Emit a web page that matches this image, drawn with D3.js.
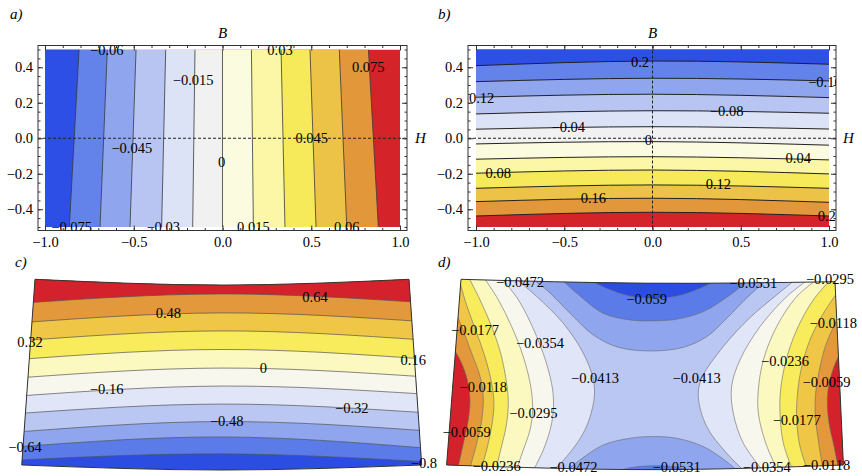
<!DOCTYPE html>
<html>
<head>
<meta charset="utf-8">
<script src="https://cdnjs.cloudflare.com/ajax/libs/d3/7.8.5/d3.min.js"></script>
<style>
  body { margin: 0; background: #fff; }
  svg { font-family: "Liberation Serif", "Times New Roman", serif; }
  .lab { font-size: 14.5px; fill: #000; text-anchor: middle; }
  .ital { font-style: italic; font-size: 15px; }
</style>
</head>
<body>
<svg id="chart" width="862" height="476"></svg>
<script>
// ---- panel a) : vertical bands, contour x at top (B=0.5) and bottom (B=-0.5)
var aLevels  = [-0.075, -0.06, -0.045, -0.03, -0.015, 0, 0.015, 0.03, 0.045, 0.06, 0.075];
var aTopX    = [-0.808, -0.649, -0.487, -0.320, -0.155, 0, 0.163, 0.330, 0.493, 0.658, 0.822];
var aBottomX = [-0.863, -0.690, -0.521, -0.343, -0.168, 0, 0.174, 0.352, 0.527, 0.700, 0.878];
var aLabels = [["\u22120.06", -0.652, 0.497], ["0.03", 0.324, 0.497], ["0.075", 0.821, 0.403],
  ["\u22120.015", -0.165, 0.328], ["\u22120.045", -0.511, -0.057], ["0.045", 0.503, 0.0],
  ["0", -0.005, -0.135], ["\u22120.075", -0.850, -0.498], ["\u22120.03", -0.334, -0.498],
  ["0.015", 0.174, -0.498], ["0.06", 0.700, -0.498]];

// ---- panel b) : horizontal bands, contour y at H=-1, 0, 1
var bLevels = [-0.2, -0.16, -0.12, -0.08, -0.04, 0, 0.04, 0.08, 0.12, 0.16, 0.2];
var bLeftY  = [0.409, 0.319, 0.231, 0.137, 0.051, -0.032, -0.118, -0.197, -0.282, -0.357, -0.438];
var bMidY   = [0.435, 0.338, 0.248, 0.155, 0.065, -0.019, -0.104, -0.179, -0.263, -0.338, -0.417];
var bRightY = [0.417, 0.323, 0.229, 0.141, 0.052, -0.039, -0.122, -0.201, -0.282, -0.361, -0.438];
var bLabels = [["0.2", -0.071, 0.431], ["\u22120.16", 0.977, 0.319], ["0.12", -0.968, 0.225],
  ["\u22120.08", 0.420, 0.154], ["\u22120.04", -0.477, 0.065], ["0", -0.024, -0.010],
  ["0.04", 0.826, -0.113], ["0.08", -0.874, -0.194], ["0.12", 0.373, -0.259],
  ["0.16", -0.335, -0.335], ["0.2", 0.987, -0.438]];

var xTickVals = [-1, -0.5, 0, 0.5, 1];
var yTickVals = [-0.4, -0.2, 0, 0.2, 0.4];

// ---- panel c) : deformed domain, contour y at left edge, middle, right edge
var cLevels = [-0.8, -0.64, -0.48, -0.32, -0.16, 0, 0.16, 0.32, 0.48, 0.64];
var cLeftY  = [-0.473, -0.401, -0.321, -0.222, -0.128, -0.030, 0.069, 0.169, 0.266, 0.371];
var cMidY   = [-0.440, -0.349, -0.266, -0.172, -0.075, 0.022, 0.122, 0.222, 0.319, 0.421];
var cRightY = [-0.482, -0.408, -0.315, -0.218, -0.118, -0.025, 0.071, 0.173, 0.272, 0.374];
var cTopEdge = [[-1, 0.5], [0, 0.469], [1, 0.5]];
var cBottomEdge = [[1.068, -0.5], [0, -0.527], [-1.071, -0.5]];
var cLabels = [["0.64", 0.497, 0.406], ["0.48", -0.287, 0.317], ["0.32", -1.027, 0.164],
  ["0.16", 1.023, 0.065], ["0", 0.221, 0.021], ["\u22120.16", -0.617, -0.091],
  ["\u22120.32", 0.694, -0.195], ["\u22120.48", 0.025, -0.263], ["\u22120.64", -1.053, -0.405],
  ["\u22120.8", 1.080, -0.489]];

// ---- panel d) : saddle, contour lines traced as point lists
var dLevels = [-0.059, -0.0531, -0.0472, -0.0413, -0.0354, -0.0295, -0.0236, -0.0177, -0.0118, -0.0059];
var dTopEdge = [[-1, 0.5], [0, 0.479], [1, 0.487]];
var dBottomEdge = [[1.045, -0.5], [0.02, -0.525], [-1.077, -0.5]];
var dLeft = [
  [-0.0413, [[-0.720,0.514],[-0.595,0.407],[-0.453,0.263],[-0.346,0.102],[-0.292,-0.042],[-0.289,-0.150],[-0.337,-0.311],[-0.435,-0.455],[-0.524,-0.545]]],
  [-0.0354, [[-0.791,0.514],[-0.693,0.389],[-0.595,0.191],[-0.533,0.012],[-0.506,-0.132],[-0.515,-0.274],[-0.560,-0.419],[-0.622,-0.545]]],
  [-0.0295, [[-0.881,0.514],[-0.800,0.389],[-0.729,0.245],[-0.667,0.084],[-0.627,-0.078],[-0.617,-0.204],[-0.631,-0.311],[-0.667,-0.419],[-0.711,-0.545]]],
  [-0.0236, [[-0.961,0.514],[-0.898,0.389],[-0.836,0.245],[-0.788,0.102],[-0.756,-0.060],[-0.747,-0.168],[-0.759,-0.293],[-0.788,-0.419],[-0.818,-0.545]]],
  [-0.0177, [[-1.014,0.514],[-0.970,0.361],[-0.922,0.227],[-0.872,0.084],[-0.836,-0.060],[-0.824,-0.168],[-0.836,-0.293],[-0.863,-0.419],[-0.898,-0.545]]],
  [-0.0118, [[-1.041,0.353],[-0.996,0.245],[-0.943,0.102],[-0.898,-0.024],[-0.881,-0.132],[-0.889,-0.257],[-0.916,-0.383],[-0.961,-0.545]]],
  [-0.0059, [[-1.100,0.220],[-1.005,0.066],[-0.966,-0.042],[-0.952,-0.150],[-0.961,-0.257],[-0.987,-0.383],[-1.023,-0.545]]]
];
var dRight = [
  [-0.0413, [[0.813,0.518],[0.688,0.416],[0.545,0.293],[0.403,0.138],[0.287,-0.033],[0.269,-0.132],[0.314,-0.293],[0.421,-0.437],[0.528,-0.545]]],
  [-0.0354, [[0.884,0.518],[0.742,0.407],[0.599,0.245],[0.492,0.066],[0.447,-0.078],[0.456,-0.220],[0.510,-0.383],[0.626,-0.545]]],
  [-0.0295, [[0.929,0.518],[0.795,0.407],[0.688,0.245],[0.617,0.066],[0.590,-0.096],[0.590,-0.220],[0.630,-0.383],[0.700,-0.545]]],
  [-0.0236, [[1.000,0.523],[0.884,0.389],[0.795,0.227],[0.738,0.062],[0.709,-0.096],[0.706,-0.220],[0.724,-0.383],[0.780,-0.545]]],
  [-0.0177, [[1.036,0.461],[0.938,0.317],[0.866,0.173],[0.818,0.012],[0.798,-0.132],[0.795,-0.257],[0.813,-0.401],[0.860,-0.545]]],
  [-0.0118, [[1.045,0.326],[0.998,0.254],[0.948,0.138],[0.913,-0.006],[0.895,-0.132],[0.895,-0.240],[0.913,-0.383],[0.940,-0.545]]],
  [-0.0059, [[1.080,0.173],[1.018,0.084],[0.973,-0.042],[0.959,-0.150],[0.968,-0.274],[0.995,-0.401],[1.023,-0.545]]]
];
var dTop = [
  [-0.0472, [[-0.649,0.523],[-0.542,0.443],[-0.417,0.317],[-0.292,0.200],[-0.159,0.134],[0.020,0.114],[0.189,0.134],[0.314,0.191],[0.421,0.290],[0.545,0.416],[0.670,0.523]]],
  [-0.0531, [[-0.488,0.523],[-0.381,0.425],[-0.239,0.317],[-0.096,0.281],[0.020,0.276],[0.153,0.285],[0.296,0.326],[0.439,0.416],[0.572,0.523]]],
  [-0.059,  [[-0.346,0.514],[-0.221,0.452],[-0.096,0.410],[0.020,0.398],[0.153,0.410],[0.278,0.452],[0.403,0.514]]]
];
var dBottom = [
  [-0.0472, [[-0.453,-0.545],[-0.364,-0.473],[-0.239,-0.392],[-0.096,-0.356],[0.020,-0.347],[0.153,-0.356],[0.296,-0.401],[0.421,-0.482],[0.492,-0.545]]],
  [-0.0531, [[-0.203,-0.545],[-0.096,-0.515],[0.020,-0.504],[0.153,-0.511],[0.260,-0.545]]],
  [-0.059,  [[-0.078,-0.545],[0.020,-0.523],[0.118,-0.545]]]
];
var dLabels = [["\u22120.0472", -0.684, 0.487], ["\u22120.059", -0.007, 0.392], ["\u22120.0531", 0.563, 0.479],
  ["\u22120.0295", 0.973, 0.500], ["\u22120.0177", -0.925, 0.227], ["\u22120.0354", -0.578, 0.155],
  ["\u22120.0118", 0.991, 0.263], ["\u22120.0236", 0.733, 0.062], ["\u22120.0413", -0.283, -0.033],
  ["\u22120.0413", 0.260, -0.033], ["\u22120.0118", -0.881, -0.078], ["\u22120.0059", 0.955, -0.051],
  ["\u22120.0295", -0.613, -0.221], ["\u22120.0177", 0.795, -0.257], ["\u22120.0059", -0.970, -0.320],
  ["\u22120.0236", -0.809, -0.505], ["\u22120.0472", -0.399, -0.510], ["\u22120.0531", 0.153, -0.510],
  ["\u22120.0354", 0.635, -0.508], ["\u22120.0118", 0.955, -0.502]];

// colours, blue (low) -> red (high)
var pal12 = ["#2d4fe6", "#6383ea", "#8fa6ee", "#b8c5f3", "#dde3f7", "#f0f1f0",
             "#fbfbdf", "#fbf7a6", "#f7ea5a", "#edc347", "#e3973b", "#d42329"];
var pal11 = ["#2b4de2", "#5a7be8", "#8fa5ee", "#bac7f3", "#e0e6f8", "#f7f7ee",
             "#fbf8c0", "#f8ec5c", "#efc646", "#e3983b", "#d3222b"];

var svg = d3.select("#chart");

function region(pts, extra, x, y, curve) {
  var l = d3.line().x(function(d) { return x(d[0]); }).y(function(d) { return y(d[1]); }).curve(curve);
  return l(pts) + extra.map(function(p) { return "L" + x(p[0]) + "," + y(p[1]); }).join("") + "Z";
}
function pathOf(pts, x, y, curve) {
  return d3.line().x(function(d) { return x(d[0]); }).y(function(d) { return y(d[1]); }).curve(curve)(pts);
}

function frame(g, x, y, box) {
  g.append("rect").attr("x", box[0]).attr("y", box[1])
    .attr("width", box[2] - box[0]).attr("height", box[3] - box[1])
    .attr("fill", "none").attr("stroke", "#333").attr("stroke-width", 1);
  var f = d3.format(".1f");
  var axes = [
    [d3.axisBottom(x).tickValues(xTickVals).tickSize(-5).tickPadding(6).tickFormat(f), 0, box[3]],
    [d3.axisBottom(x).tickValues(x.ticks(20)).tickSize(-2.5).tickFormat(""), 0, box[3]],
    [d3.axisTop(x).tickValues(xTickVals).tickSize(-5).tickFormat(""), 0, box[1]],
    [d3.axisTop(x).tickValues(x.ticks(20)).tickSize(-2.5).tickFormat(""), 0, box[1]],
    [d3.axisLeft(y).tickValues(yTickVals).tickSize(-5).tickPadding(5).tickFormat(f), box[0], 0],
    [d3.axisLeft(y).tickValues(y.ticks(20)).tickSize(-2.5).tickFormat(""), box[0], 0],
    [d3.axisRight(y).tickValues(yTickVals).tickSize(-5).tickFormat(""), box[2], 0],
    [d3.axisRight(y).tickValues(y.ticks(20)).tickSize(-2.5).tickFormat(""), box[2], 0]
  ];
  axes.forEach(function(a) {
    var ag = g.append("g").attr("transform", "translate(" + a[1] + "," + a[2] + ")").call(a[0]);
    ag.select(".domain").remove();
    ag.selectAll("line").attr("stroke", "#333");
    ag.selectAll("text").attr("font-family", "Liberation Serif, serif").attr("font-size", 14.5).attr("fill", "#000");
  });
}

function labels(g, list, x, y) {
  g.selectAll(null).data(list).enter().append("text")
    .attr("class", "lab")
    .attr("x", function(d) { return x(d[1]); })
    .attr("y", function(d) { return y(d[2]); })
    .attr("dy", "0.35em")
    .text(function(d) { return d[0]; });
}

var defs = svg.append("defs");

// ================= a)
(function() {
  var x = d3.scaleLinear([-1, 1], [45, 400]);
  var y = d3.scaleLinear([-0.5, 0.5], [227, 49.5]);
  var box = [38, 45.5, 407, 230.5];
  defs.append("clipPath").attr("id", "clipA").append("rect")
    .attr("x", x(-1)).attr("y", y(0.5)).attr("width", x(1) - x(-1)).attr("height", y(-0.5) - y(0.5));
  defs.append("clipPath").attr("id", "boxA").append("rect")
    .attr("x", box[0]).attr("y", box[1]).attr("width", box[2] - box[0]).attr("height", box[3] - box[1]);
  var g = svg.append("g");
  var p = g.append("g").attr("clip-path", "url(#clipA)");
  p.append("rect").attr("x", x(-1)).attr("y", y(0.5)).attr("width", x(1) - x(-1))
    .attr("height", y(-0.5) - y(0.5)).attr("fill", pal12[11]);
  for (var i = aLevels.length - 1; i >= 0; i--) {
    var pts = [[aTopX[i], 0.5], [aBottomX[i], -0.5]];
    p.append("path").attr("d", region(pts, [[-1.5, -0.5], [-1.5, 0.5]], x, y, d3.curveLinear))
      .attr("fill", pal12[i]);
  }
  aLevels.forEach(function(lv, i) {
    p.append("path").attr("d", pathOf([[aTopX[i], 0.5], [aBottomX[i], -0.5]], x, y, d3.curveLinear))
      .attr("fill", "none").attr("stroke", "#3a3a3a").attr("stroke-width", 0.8);
  });
  g.append("line").attr("x1", box[0]).attr("x2", box[2]).attr("y1", y(0)).attr("y2", y(0))
    .attr("stroke", "#222").attr("stroke-dasharray", "3,2");
  frame(g, x, y, box);
  labels(g.append("g").attr("clip-path", "url(#boxA)"), aLabels, x, y);
  g.append("text").attr("class", "ital").attr("x", 10).attr("y", 19).text("a)");
  g.append("text").attr("class", "ital").attr("x", x(0)).attr("y", 38).attr("text-anchor", "middle").text("B");
  g.append("text").attr("class", "ital").attr("x", 415).attr("y", y(0) + 5).text("H");
})();

// ================= b)
(function() {
  var x = d3.scaleLinear([-1, 1], [476, 829]);
  var y = d3.scaleLinear([-0.5, 0.5], [227, 49.5]);
  var box = [468, 45.5, 836, 230.5];
  defs.append("clipPath").attr("id", "clipB").append("rect")
    .attr("x", x(-1)).attr("y", y(0.5)).attr("width", x(1) - x(-1)).attr("height", y(-0.5) - y(0.5));
  defs.append("clipPath").attr("id", "boxB").append("rect")
    .attr("x", box[0]).attr("y", box[1]).attr("width", box[2] - box[0]).attr("height", box[3] - box[1]);
  var g = svg.append("g");
  var p = g.append("g").attr("clip-path", "url(#clipB)");
  p.append("rect").attr("x", x(-1)).attr("y", y(0.5)).attr("width", x(1) - x(-1))
    .attr("height", y(-0.5) - y(0.5)).attr("fill", pal12[11]);
  for (var i = bLevels.length - 1; i >= 0; i--) {
    var pts = [[-1, bLeftY[i]], [0, bMidY[i]], [1, bRightY[i]]];
    p.append("path").attr("d", region(pts, [[1, 0.7], [-1, 0.7]], x, y, d3.curveNatural))
      .attr("fill", pal12[i]);
  }
  bLevels.forEach(function(lv, i) {
    p.append("path").attr("d", pathOf([[-1, bLeftY[i]], [0, bMidY[i]], [1, bRightY[i]]], x, y, d3.curveNatural))
      .attr("fill", "none").attr("stroke", "#222").attr("stroke-width", 1);
  });
  g.append("line").attr("x1", box[0]).attr("x2", box[2]).attr("y1", y(0)).attr("y2", y(0))
    .attr("stroke", "#222").attr("stroke-dasharray", "3,2");
  g.append("line").attr("x1", x(0)).attr("x2", x(0)).attr("y1", box[1]).attr("y2", box[3])
    .attr("stroke", "#222").attr("stroke-dasharray", "3,2");
  frame(g, x, y, box);
  labels(g.append("g").attr("clip-path", "url(#boxB)"), bLabels, x, y);
  g.append("text").attr("class", "ital").attr("x", 438).attr("y", 19).text("b)");
  g.append("text").attr("class", "ital").attr("x", x(0)).attr("y", 38).attr("text-anchor", "middle").text("B");
  g.append("text").attr("class", "ital").attr("x", 843).attr("y", y(0) + 5).text("H");
})();

// ================= c)
(function() {
  var x = d3.scaleLinear([-1, 1], [35, 409]);
  var y = d3.scaleLinear([-0.5, 0.5], [465, 279.3]);
  var outline = pathOf(cTopEdge, x, y, d3.curveNatural) +
    pathOf(cBottomEdge, x, y, d3.curveNatural).replace(/^M/, "L") + "Z";
  defs.append("clipPath").attr("id", "clipC").append("path").attr("d", outline);
  var g = svg.append("g");
  var p = g.append("g").attr("clip-path", "url(#clipC)");
  p.append("path").attr("d", outline).attr("fill", pal11[0]);
  cLevels.forEach(function(lv, i) {
    var pts = [[-1.08, cLeftY[i]], [0, cMidY[i]], [1.08, cRightY[i]]];
    p.append("path").attr("d", region(pts, [[1.3, 0.7], [-1.3, 0.7]], x, y, d3.curveNatural))
      .attr("fill", pal11[i + 1]);
  });
  cLevels.forEach(function(lv, i) {
    p.append("path").attr("d", pathOf([[-1.08, cLeftY[i]], [0, cMidY[i]], [1.08, cRightY[i]]], x, y, d3.curveNatural))
      .attr("fill", "none").attr("stroke", "#555").attr("stroke-width", 0.7);
  });
  g.append("path").attr("d", outline).attr("fill", "none").attr("stroke", "#333").attr("stroke-width", 1);
  labels(g, cLabels, x, y);
  g.append("text").attr("class", "ital").attr("x", 15).attr("y", 267).text("c)");
})();

// ================= d)
(function() {
  var x = d3.scaleLinear([-1, 1], [461, 835]);
  var y = d3.scaleLinear([-0.5, 0.5], [465, 279.3]);
  var outline = pathOf(dTopEdge, x, y, d3.curveNatural) +
    pathOf(dBottomEdge, x, y, d3.curveNatural).replace(/^M/, "L") + "Z";
  defs.append("clipPath").attr("id", "clipD").append("path").attr("d", outline);
  var g = svg.append("g");
  var p = g.append("g").attr("clip-path", "url(#clipD)");
  var curve = d3.curveCatmullRom.alpha(0.5);
  p.append("path").attr("d", outline).attr("fill", pal11[3]);
  function band(level, rising) {
    var k = dLevels.indexOf(level);
    return pal11[rising ? k + 1 : k];
  }
  var groups = [
    [dLeft, [[-1.4, -0.7], [-1.4, 0.7]], true],
    [dRight, [[1.4, -0.7], [1.4, 0.7]], true],
    [dTop, [[1.4, 0.7], [-1.4, 0.7]], false],
    [dBottom, [[1.4, -0.7], [-1.4, -0.7]], false]
  ];
  groups.forEach(function(gr) {
    gr[0].forEach(function(c) {
      p.append("path").attr("d", region(c[1], gr[1], x, y, curve)).attr("fill", band(c[0], gr[2]));
    });
  });
  groups.forEach(function(gr) {
    gr[0].forEach(function(c) {
      p.append("path").attr("d", pathOf(c[1], x, y, curve))
        .attr("fill", "none").attr("stroke", "#6a6a6a").attr("stroke-width", 0.6);
    });
  });
  g.append("path").attr("d", outline).attr("fill", "none").attr("stroke", "#333").attr("stroke-width", 1);
  labels(g, dLabels, x, y);
  g.append("text").attr("class", "ital").attr("x", 438).attr("y", 267).text("d)");
})();
</script>
</body>
</html>
